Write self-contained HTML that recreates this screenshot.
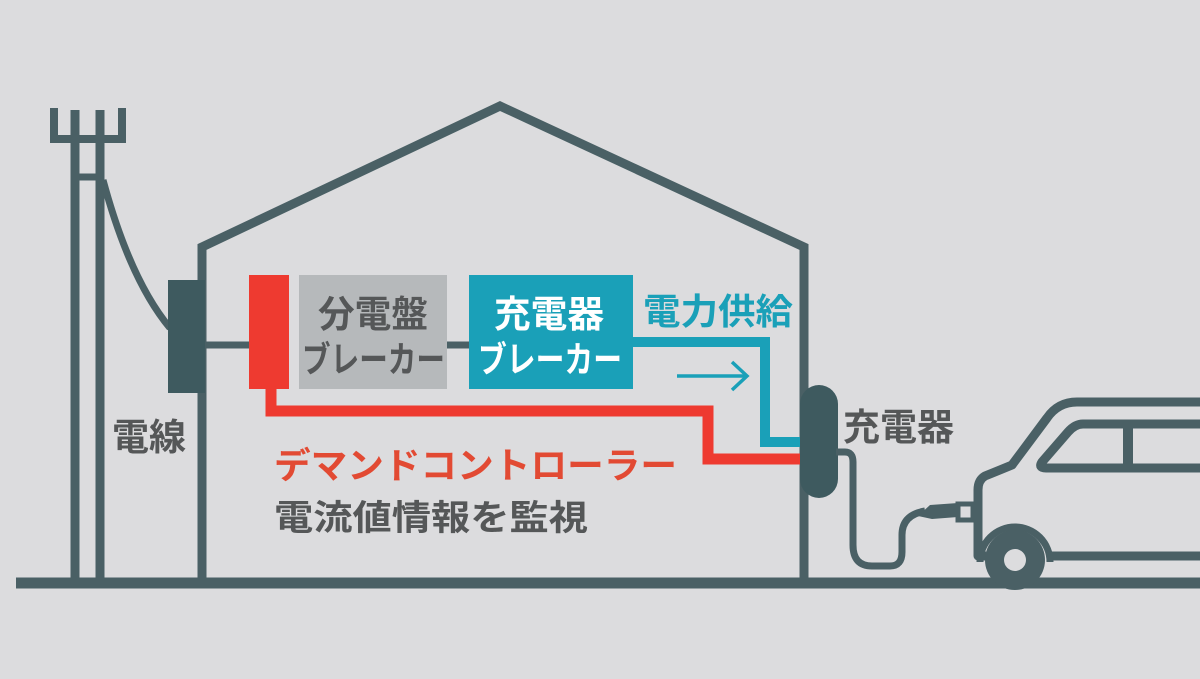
<!DOCTYPE html>
<html><head><meta charset="utf-8"><style>
html,body{margin:0;padding:0;background:#dcdcde;}
svg{display:block}
text{font-family:"Liberation Sans","Noto Sans CJK JP",sans-serif;font-weight:bold;}
</style></head><body>
<svg width="1200" height="679" viewBox="0 0 1200 679" xmlns="http://www.w3.org/2000/svg">
<rect width="1200" height="679" fill="#dcdcde"/>
<g stroke="#4a6065" fill="none" stroke-width="9">
<line x1="16" y1="583" x2="1200" y2="583" stroke-width="11"/>
<line x1="75" y1="110" x2="75" y2="583"/>
<line x1="100" y1="110" x2="100" y2="583"/>
<polyline points="54,108 54,139 122,139 122,108" stroke-width="8"/>
<line x1="75" y1="177" x2="100" y2="177" stroke-width="7"/>
<path d="M103 180 Q130 280 170 328" stroke-width="7"/>
<polyline points="202,583 202,247 500,106 804,247 804,583"/>
<line x1="205" y1="345" x2="250" y2="345" stroke-width="7"/>
<line x1="447" y1="345" x2="470" y2="345" stroke-width="7"/>
</g>
<rect x="168" y="280" width="37" height="113" fill="#3e5a5f"/>
<rect x="249" y="275" width="40" height="114" fill="#ee3a30"/>
<rect x="299" y="275" width="148" height="114" fill="#b6b9bb"/>
<rect x="469" y="275" width="164" height="114" fill="#1aa0b8"/>
<polyline points="633,342 765,342 765,442 805,442" fill="none" stroke="#1aa0b8" stroke-width="10"/>
<polyline points="271,389 271,411 708,411 708,459 805,459" fill="none" stroke="#ee3a30" stroke-width="11"/>
<g stroke="#1aa0b8" stroke-width="3.5" fill="none">
<line x1="677" y1="376" x2="747" y2="376"/>
<polyline points="732,362 747,376 732,390"/>
</g>
<rect x="800" y="385" width="38" height="113" rx="19" fill="#3e5a5f"/>
<path d="M836 452 H845 Q853 452 853 462 V545 Q853 566 872 566 H890 Q902 566 902 552 V535 Q902 515 925 511" fill="none" stroke="#4a6065" stroke-width="7"/>
<path d="M918 516 L930 505 L958 503 L958 517 L932 519 Z" fill="#4a6065"/>
<rect x="958" y="504" width="15" height="16" fill="#dcdcde" stroke="#4a6065" stroke-width="5"/>
<g stroke="#4a6065" stroke-width="9" fill="none" stroke-linejoin="round">
<path d="M1205 402 H1077 Q1058 402 1047 418 L1012 465 Q995 472 985 476 Q978 480 978 490 V556 H986"/>
<line x1="1048" y1="556" x2="1205" y2="556"/>
<path d="M1205 424 H1083 Q1075 424 1068 432 L1042 462 Q1038 468 1046 468 H1205"/>
<line x1="1128" y1="424" x2="1128" y2="468" stroke-width="10"/>
<path d="M980 562 A35 35 0 0 1 1050 562" stroke-width="7"/>
</g>
<circle cx="1015" cy="560" r="30" fill="#4a6065"/>
<circle cx="1015" cy="560" r="11" fill="#dcdcde"/>
<g>
<text x="318" y="327" fill="#555758" font-size="37" textLength="110" lengthAdjust="spacingAndGlyphs">分電盤</text>
<text x="302" y="372" fill="#555758" font-size="36" textLength="143" lengthAdjust="spacingAndGlyphs">ブレーカー</text>
<text x="494" y="327" fill="#ffffff" font-size="37" textLength="110" lengthAdjust="spacingAndGlyphs">充電器</text>
<text x="478" y="372" fill="#ffffff" font-size="36" textLength="144" lengthAdjust="spacingAndGlyphs">ブレーカー</text>
<text x="643" y="324" fill="#1aa0b8" font-size="36" textLength="150" lengthAdjust="spacingAndGlyphs">電力供給</text>
<text x="274" y="478" fill="#e24a33" font-size="36" textLength="403" lengthAdjust="spacingAndGlyphs">デマンドコントローラー</text>
<text x="274" y="530" fill="#555758" font-size="35" textLength="314" lengthAdjust="spacingAndGlyphs">電流値情報を監視</text>
<text x="112" y="450" fill="#555758" font-size="37">電線</text>
<text x="843" y="440" fill="#555758" font-size="37">充電器</text>
</g>
</svg>
</body></html>
